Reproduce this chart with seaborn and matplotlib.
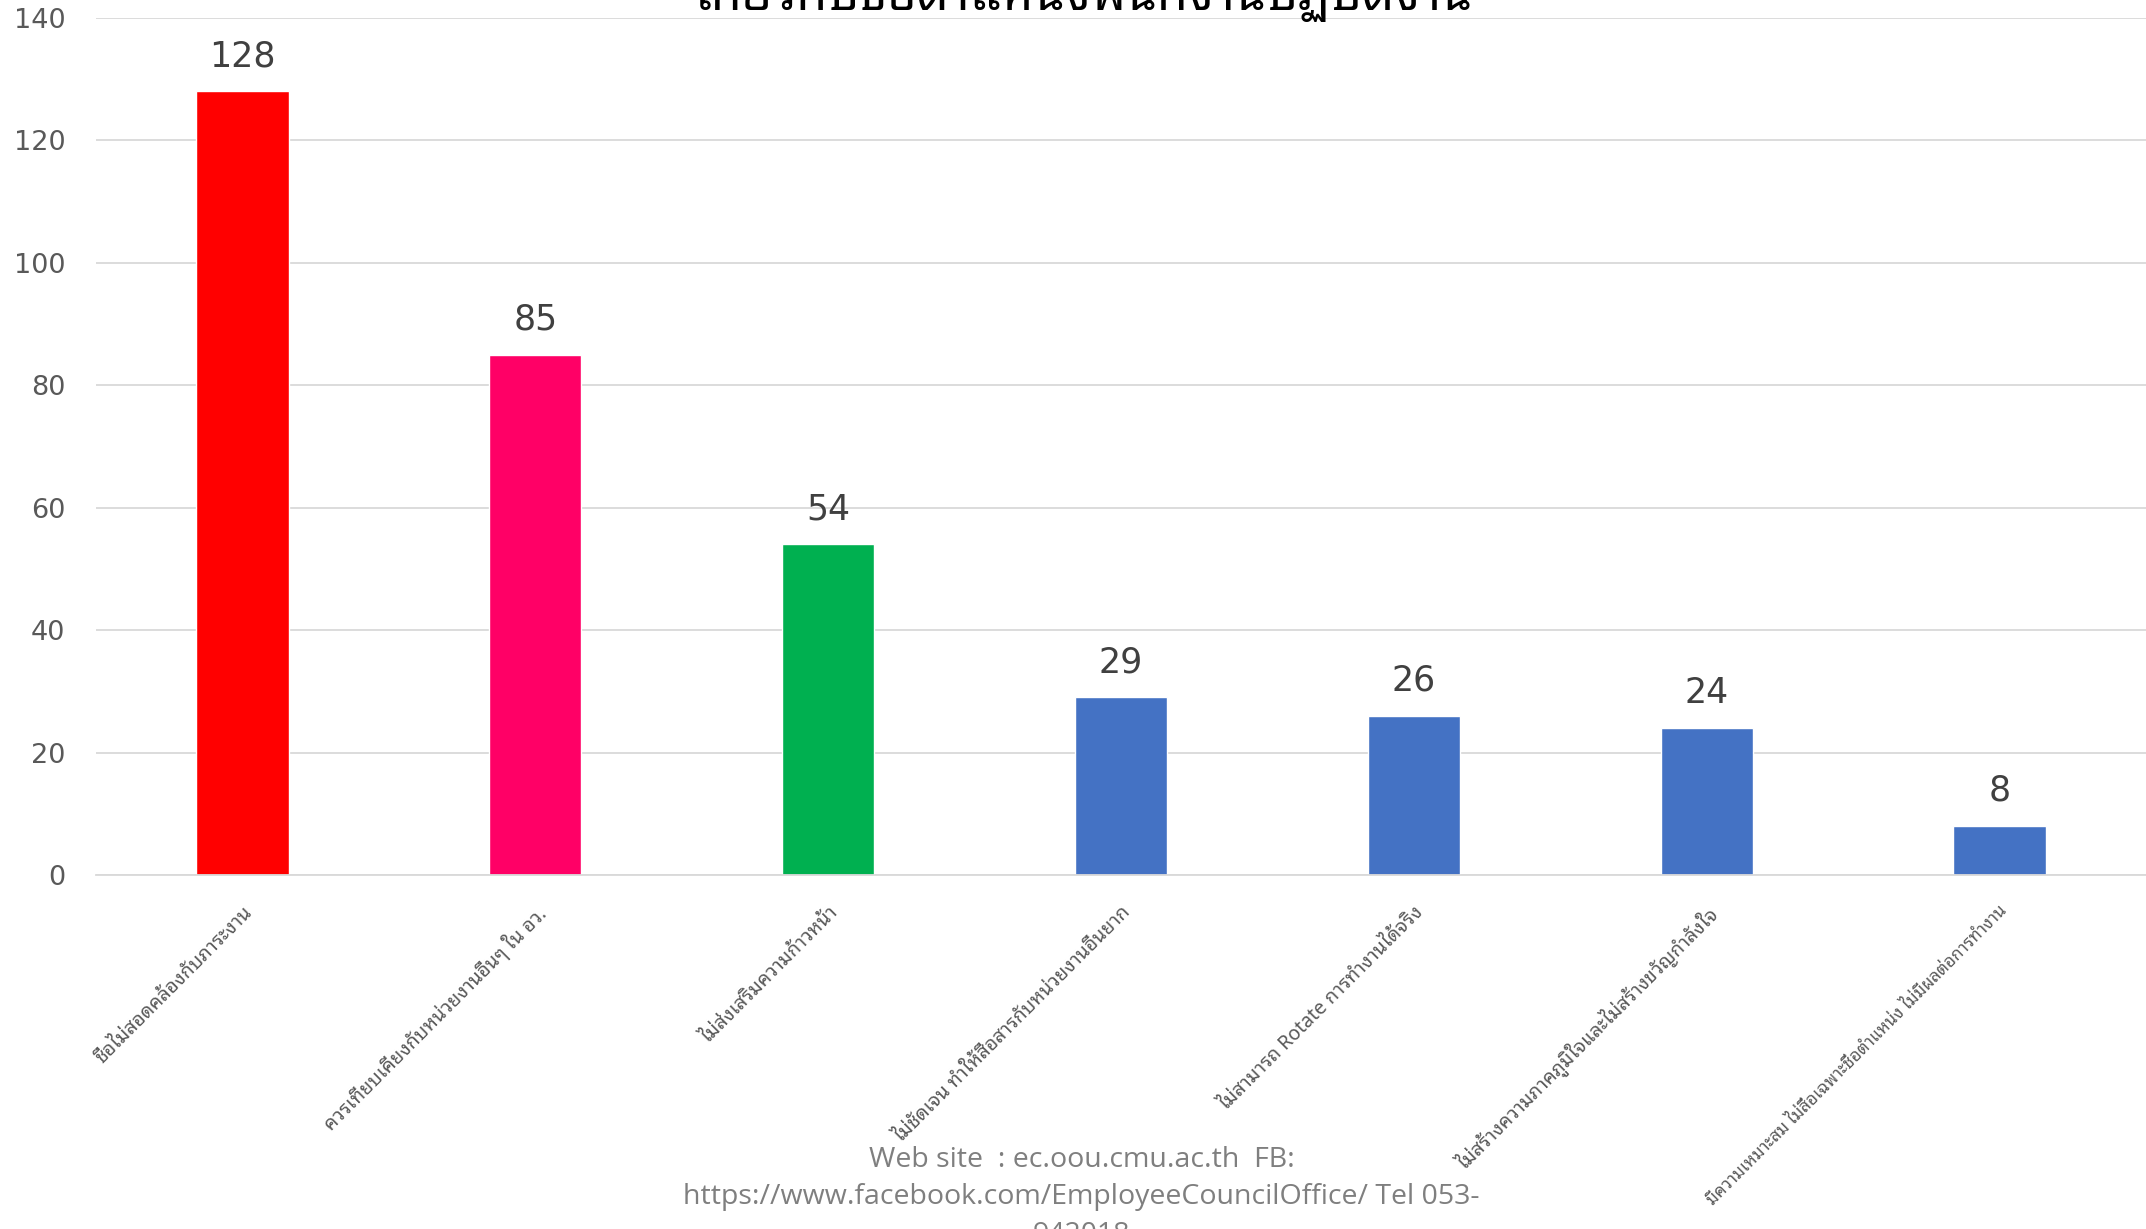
import matplotlib
matplotlib.use("Agg")
import matplotlib.pyplot as plt
import seaborn as sns
import pandas as pd
from matplotlib import font_manager as fm

categories = [
    "ชื่อไม่สอดคล้องกับภาระงาน",
    "ควรเทียบเคียงกับหน่วยงานอื่นๆ ใน อว.",
    "ไม่ส่งเสริมความก้าวหน้า",
    "ไม่ชัดเจน ทำให้สื่อสารกับหน่วยงานอื่นยาก",
    "ไม่สามารถ Rotate การทำงานได้จริง",
    "ไม่สร้างความภาคภูมิใจและไม่สร้างขวัญกำลังใจ",
    "มีความเหมาะสม ไม่สื่อเฉพาะชื่อตำแหน่ง ไม่มีผลต่อการทำงาน",
]
values = [128, 85, 54, 29, 26, 24, 8]
bar_colors = ["#FF0000", "#FF0066", "#00B050", "#4472C4", "#4472C4", "#4472C4", "#4472C4"]
yticks = [0, 20, 40, 60, 80, 100, 120, 140]
title = "เกี่ยวกับชื่อตำแหน่งพนักงานปฏิบัติงาน"
footer = "Web site  : ec.oou.cmu.ac.th  FB:\nhttps://www.facebook.com/EmployeeCouncilOffice/ Tel 053-\n942018"


def find_thai_fonts():
    found = []
    try:
        from fontTools.ttLib import TTFont
    except Exception:
        return found
    for f in fm.fontManager.ttflist:
        try:
            tt = TTFont(f.fname, fontNumber=0, lazy=True)
            cmap = tt.getBestCmap()
            if cmap and 0x0E01 in cmap:
                found.append(f.name)
        except Exception:
            pass
    return found


thai_names = []
for n in find_thai_fonts():
    if n not in thai_names:
        thai_names.append(n)
pref = [n for n in thai_names if "Noto Sans Thai" in n] + [n for n in thai_names if "Loma" in n or "Garuda" in n] + thai_names
thai_font = pref[0] if pref else None
fam = ([thai_font] if thai_font else []) + ["DejaVu Sans"]

sns.set_theme(style="white")
plt.rcParams["font.family"] = ["DejaVu Sans"]

fig = plt.figure(figsize=(21.46, 12.29), dpi=100)
ax = fig.add_axes([96 / 2146, 1 - 875 / 1229, 1 - 96 / 2146, (875 - 17.8) / 1229])

df = pd.DataFrame({"cat": categories, "val": values})
sns.barplot(data=df, x="cat", y="val", hue="cat", palette=bar_colors, width=0.315,
            legend=False, ax=ax, saturation=1)

ax.set_ylim(0, 140)
ax.set_xlim(-0.5, 6.5)
ax.set_yticks(yticks)
ax.set_yticklabels([str(v) for v in yticks], fontsize=19.5, color="#595959")
ax.tick_params(axis="y", length=0, pad=22)
ax.tick_params(axis="x", length=0, pad=20)
ax.yaxis.grid(True, color="#D9D9D9", linewidth=1.3)
ax.set_axisbelow(True)
for s in ["top", "right", "left"]:
    ax.spines[s].set_visible(False)
ax.spines["bottom"].set_color("#D9D9D9")
ax.spines["bottom"].set_linewidth(1.3)
ax.set_xlabel("")
ax.set_ylabel("")

ax.set_xticks(range(len(categories)))
ax.set_xticklabels(categories, rotation=45, ha="right", rotation_mode="anchor",
                   fontsize=14, color="#595959", family=fam)
ax.get_xticklabels()[-1].set_fontsize(12.3)

for c in ax.containers:
    ax.bar_label(c, fmt="%d", fontsize=25, color="#404040", padding=13)

fig.text(0.505, 1 - 10 / 1229, title, ha="center", va="baseline", fontsize=36,
         fontweight="bold", color="#000000", family=fam)
fig.text(0.504, 1 - 1146 / 1229, footer, ha="center", va="top", fontsize=20.5,
         color="#7F7F7F", family=["Open Sans", "DejaVu Sans"], linespacing=1.45)

fig.savefig("out.png", dpi=100)
